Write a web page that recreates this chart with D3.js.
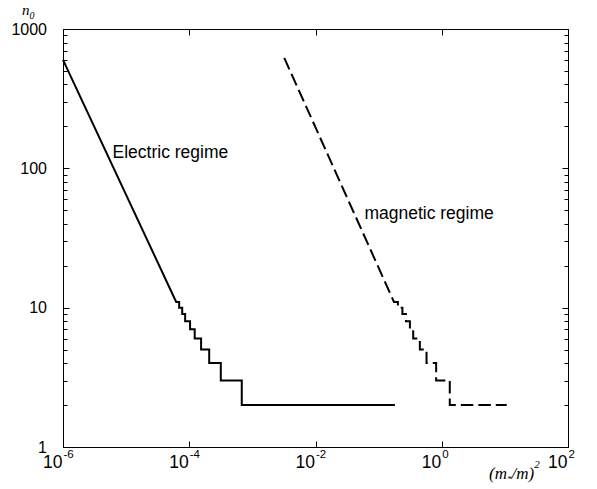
<!DOCTYPE html>
<html>
<head>
<meta charset="utf-8">
<script src="https://cdn.jsdelivr.net/npm/d3@7"></script>
<style>
  body { margin: 0; background: #fff; }
  text { font-family: "Liberation Sans", Arial, sans-serif; fill: #000; }
  .serif { font-family: "Liberation Serif", "Times New Roman", serif; font-style: italic; }
</style>
</head>
<body>
<div id="chart"></div>
<script>
// tick values and labels
var xTickVals = [1e-6, 1e-4, 1e-2, 1, 1e2];
var xTickExps = ["-6", "-4", "-2", "0", "2"];
var yTickVals = [1, 10, 100, 1000];
var yTickLabels = ["1", "10", "100", "1000"];

// electric regime: straight part, then one step per level
var electricX = [1e-6, 6.21e-5, 6.92e-5, 7.73e-5, 8.61e-5, 1.03e-4, 1.22e-4, 1.54e-4, 2.07e-4, 3.16e-4, 6.79e-4, 0.181];
var electricN = [600, 11, 10, 9, 8, 7, 6, 5, 4, 3, 2, 2];

// magnetic regime
var magneticX = [3.2e-3, 0.175, 0.202, 0.238, 0.271, 0.313, 0.353, 0.450, 0.574, 0.815, 1.34, 10.7];
var magneticN = [620, 11, 10, 9, 8, 7, 6, 5, 4, 3, 2, 2];

// curve labels (data position of the text start / baseline)
var curveLabels = ["Electric regime", "magnetic regime"];
var curveLabelX = [6.1e-6, 0.0595];
var curveLabelN = [118, 43];

var width = 597, height = 489;

var svg = d3.select("#chart")
  .append("svg")
    .attr("width", width)
    .attr("height", height);

var x = d3.scaleLog()
  .domain([1e-6, 1e2])
  .range([63, 568]);

var y = d3.scaleLog()
  .domain([1, 1000])
  .range([447, 29]);

// minor y ticks 2..9 in each decade
var yMinor = [];
yTickVals.slice(0, 3).forEach(function(d) {
  for (var k = 2; k <= 9; k++) yMinor.push(d * k);
});

// frame
svg.append("rect")
  .attr("x", x.range()[0] + 0.5)
  .attr("y", y.range()[1] + 0.5)
  .attr("width", x.range()[1] - x.range()[0])
  .attr("height", y.range()[0] - y.range()[1])
  .attr("fill", "none")
  .attr("stroke", "#000")
  .attr("stroke-width", 1);

var ticks = svg.append("g").attr("stroke", "#000").attr("stroke-width", 1);

// y ticks, left and right, pointing inward
function yTick(v, len) {
  var yy = Math.round(y(v)) + 0.5;
  ticks.append("line")
    .attr("x1", x.range()[0] + 0.5).attr("x2", x.range()[0] + 0.5 + len)
    .attr("y1", yy).attr("y2", yy);
  ticks.append("line")
    .attr("x1", x.range()[1] + 0.5).attr("x2", x.range()[1] + 0.5 - len)
    .attr("y1", yy).attr("y2", yy);
}
yTickVals.forEach(function(v) { yTick(v, 6); });
yMinor.forEach(function(v) { yTick(v, 4); });

// x ticks, bottom and top
xTickVals.forEach(function(v) {
  var xx = Math.round(x(v)) + 0.5;
  ticks.append("line")
    .attr("x1", xx).attr("x2", xx)
    .attr("y1", y.range()[0] + 0.5).attr("y2", y.range()[0] + 0.5 - 6);
  ticks.append("line")
    .attr("x1", xx).attr("x2", xx)
    .attr("y1", y.range()[1] + 0.5).attr("y2", y.range()[1] + 0.5 + 6);
});

// y tick labels
svg.selectAll(".ylab")
  .data(yTickVals)
  .enter()
  .append("text")
    .attr("class", "ylab")
    .attr("x", 47)
    .attr("y", function(d) { return y(d); })
    .attr("dy", "0.36em")
    .attr("text-anchor", "end")
    .attr("font-size", "16px")
    .text(function(d, i) { return yTickLabels[i]; });

// x tick labels: "10" ending at the tick, exponent after it
xTickVals.forEach(function(v, i) {
  svg.append("text")
    .attr("x", x(v) - 0.5)
    .attr("y", 468)
    .attr("text-anchor", "end")
    .attr("font-size", "17.5px")
    .text("10");
  svg.append("text")
    .attr("x", x(v) + 0.5)
    .attr("y", 457.5)
    .attr("font-size", "11.5px")
    .text(xTickExps[i]);
});

// axis titles
var yt = svg.append("text")
  .attr("class", "serif")
  .attr("x", 22)
  .attr("y", 15)
  .attr("font-size", "15px");
yt.append("tspan").text("n");
yt.append("tspan").attr("dy", 4).attr("font-size", "10px").text("0");

var xt = svg.append("text")
  .attr("class", "serif")
  .attr("x", 489)
  .attr("y", 479)
  .attr("font-size", "17px");
xt.append("tspan").text("(m");
xt.append("tspan").attr("dy", 3).attr("font-size", "9px").text("*");
xt.append("tspan").attr("dy", -3).text("/m)");
xt.append("tspan").attr("dy", -11).attr("font-size", "11px").text("2");

// build vertices: straight first segment then steps
function vertices(xs, ns) {
  var pts = [[xs[0], ns[0]], [xs[1], ns[1]]];
  for (var i = 2; i < xs.length; i++) {
    pts.push([xs[i], ns[i - 1]]);
    pts.push([xs[i], ns[i]]);
  }
  return pts;
}

var line = d3.line()
  .x(function(d) { return x(d[0]); })
  .y(function(d) { return y(d[1]); });

svg.append("path")
  .datum(vertices(electricX, electricN))
  .attr("d", line)
  .attr("fill", "none")
  .attr("stroke", "#000")
  .attr("stroke-width", 2);

svg.append("path")
  .datum(vertices(magneticX, magneticN))
  .attr("d", line)
  .attr("fill", "none")
  .attr("stroke", "#000")
  .attr("stroke-width", 2)
  .attr("stroke-dasharray", "12.5,5");

// curve labels
svg.selectAll(".clab")
  .data(curveLabels)
  .enter()
  .append("text")
    .attr("class", "clab")
    .attr("x", function(d, i) { return x(curveLabelX[i]); })
    .attr("y", function(d, i) { return y(curveLabelN[i]); })
    .attr("font-size", "17.5px")
    .text(function(d) { return d; });
</script>
</body>
</html>
